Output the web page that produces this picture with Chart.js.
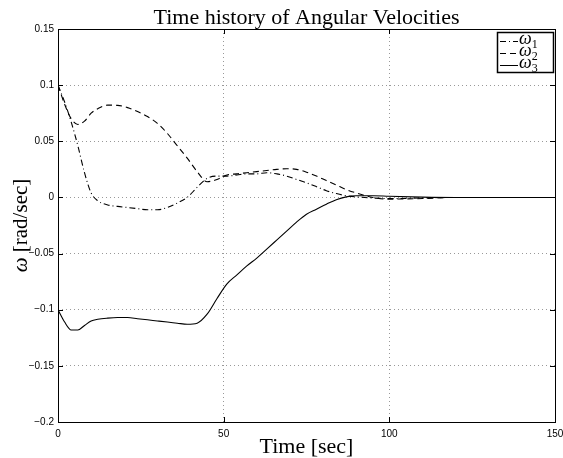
<!DOCTYPE html>
<html>
<head>
<meta charset="utf-8">
<script src="https://cdn.jsdelivr.net/npm/chart.js@4/dist/chart.umd.min.js"></script>
<style>
  html, body { margin: 0; padding: 0; background: #fff; }
  #wrap { width: 563px; height: 458px; }
</style>
</head>
<body>
<div id="wrap"><canvas id="c" width="563" height="458"></canvas></div>
<script>
// time samples [sec]
var time = [0, 2, 4, 6, 8, 10, 12, 15, 18, 21, 24, 27, 30, 33, 36, 39, 42, 45, 48, 51, 54, 57,
            60, 63, 66, 69, 72, 75, 78, 81, 84, 87, 90, 95, 100, 110, 120, 130, 140, 150];

// angular velocities [rad/sec]
var omega1 = [0.1, 0.085, 0.067, 0.046, 0.022, 0.004, -0.003, -0.0067, -0.008, -0.009, -0.010, -0.011,
              -0.011, -0.009, -0.005, 0.0, 0.009, 0.017, 0.019, 0.019, 0.020, 0.021,
              0.021, 0.022, 0.021, 0.019, 0.016, 0.013, 0.0096, 0.006, 0.0035, 0.0015, 0.0005, -0.0005,
              -0.001, -0.0005, 0, 0, 0, 0];
var omega2 = [0.1, 0.083, 0.07, 0.065, 0.068, 0.075, 0.079, 0.0822, 0.082, 0.080, 0.0765, 0.072,
              0.066, 0.057, 0.046, 0.035, 0.023, 0.014, 0.016, 0.020, 0.021, 0.022,
              0.023, 0.024, 0.025, 0.0255, 0.025, 0.0225, 0.019, 0.015, 0.011, 0.007, 0.004, 0.0,
              -0.0015, -0.001, 0, 0, 0, 0];
var omega3 = [-0.1, -0.111, -0.118, -0.118, -0.114, -0.110, -0.1085, -0.1075, -0.107, -0.107, -0.108, -0.109,
              -0.110, -0.111, -0.112, -0.113, -0.112, -0.104, -0.090, -0.077, -0.069, -0.061,
              -0.054, -0.046, -0.038, -0.030, -0.022, -0.015, -0.0105, -0.006, -0.002, 0.0005, 0.0015, 0.0015,
              0.001, 0.0003, 0, 0, 0, 0];

var seriesNames = ["1", "2", "3"];   // subscripts of omega
var xTicks = [0, 50, 100, 150];
var yTicks = [-0.2, -0.15, -0.1, -0.05, 0, 0.05, 0.1, 0.15];

var serif = "'Liberation Serif', 'Times New Roman', serif";
var sans = "'Liberation Sans', Arial, sans-serif";

var toPoints = function (ys) {
    return time.map(function (t, i) { return { x: t, y: ys[i] }; });
};

var mkSet = function (name, ys, dash) {
    return {
        label: name,
        data: toPoints(ys),
        borderColor: "#000",
        borderWidth: 1.1,
        borderDash: dash,
        pointRadius: 0,
        fill: false,
        cubicInterpolationMode: "monotone"
    };
};

var fmt = function (v) {
    var s = String(parseFloat(Number(v).toFixed(2)));
    return s.replace("-", "\u2212");
};

var gridColor = function (lo, hi) {
    return function (c) {
        var v = c.tick ? c.tick.value : null;
        return (v === lo || v === hi) ? "rgba(0,0,0,0)" : "#999";
    };
};

// box, inward ticks, titles and legend in MATLAB style
var matlabFrame = {
    id: "matlabFrame",
    afterDraw: function (chart) {
        var ctx = chart.ctx, a = chart.chartArea;
        var xs = chart.scales.x, ys = chart.scales.y;
        ctx.save();
        ctx.strokeStyle = "#000";
        ctx.lineWidth = 1;
        ctx.setLineDash([]);
        ctx.strokeRect(Math.round(a.left) + 0.5, Math.round(a.top) + 0.5,
                       Math.round(a.right - a.left), Math.round(a.bottom - a.top));

        // inward ticks
        var tl = 5;
        ctx.beginPath();
        for (let v of xTicks) {
            var px = Math.round(xs.getPixelForValue(v)) + 0.5;
            ctx.moveTo(px, a.bottom); ctx.lineTo(px, a.bottom - tl);
            ctx.moveTo(px, a.top); ctx.lineTo(px, a.top + tl);
        }
        for (let v of yTicks) {
            var py = Math.round(ys.getPixelForValue(v)) + 0.5;
            ctx.moveTo(a.left, py); ctx.lineTo(a.left + tl, py);
            ctx.moveTo(a.right, py); ctx.lineTo(a.right - tl, py);
        }
        ctx.stroke();

        // title and axis labels
        var cx = (a.left + a.right) / 2;
        ctx.fillStyle = "#000";
        ctx.textAlign = "center";
        ctx.textBaseline = "alphabetic";
        ctx.font = "22px " + serif;
        ctx.fillText("Time history of Angular Velocities", cx, 24);
        ctx.fillText("Time [sec]", cx, 453);

        ctx.save();
        ctx.translate(27, (a.top + a.bottom) / 2);
        ctx.rotate(-Math.PI / 2);
        ctx.font = "italic 21px " + serif;
        var w1 = ctx.measureText("\u03c9 ").width;
        ctx.font = "21px " + serif;
        var w2 = ctx.measureText("[rad/sec]").width;
        var x0 = -(w1 + w2) / 2;
        ctx.textAlign = "left";
        ctx.font = "italic 21px " + serif;
        ctx.fillText("\u03c9 ", x0, 0);
        ctx.font = "21px " + serif;
        ctx.fillText("[rad/sec]", x0 + w1, 0);
        ctx.restore();

        // legend
        var lx = 497, ly = 32, lw = 57, lh = 41;
        ctx.fillStyle = "#fff";
        ctx.fillRect(lx, ly, lw, lh);
        ctx.strokeStyle = "#000";
        ctx.lineWidth = 1.5;
        ctx.strokeRect(lx + 0.5, ly + 0.5, lw - 1, lh - 1);
        ctx.lineWidth = 1;
        chart.data.datasets.forEach(function (ds, i) {
            var ry = ly + 9 + i * 12;
            ctx.setLineDash(ds.borderDash || []);
            ctx.beginPath();
            ctx.moveTo(lx + 3, Math.round(ry) + 0.5);
            ctx.lineTo(lx + 21, Math.round(ry) + 0.5);
            ctx.stroke();
            ctx.setLineDash([]);
            ctx.fillStyle = "#000";
            ctx.textAlign = "left";
            ctx.font = "italic 18px " + serif;
            ctx.fillText("\u03c9", lx + 22, ry + 3);
            var ww = ctx.measureText("\u03c9").width;
            ctx.font = "12px " + serif;
            ctx.fillText(seriesNames[i], lx + 22 + ww, ry + 7);
        });
        ctx.restore();
    }
};

new Chart(document.getElementById("c"), {
    type: "line",
    data: {
        datasets: [
            mkSet("\u03c91", omega1, [6, 3, 1, 3]),
            mkSet("\u03c92", omega2, [6, 4]),
            mkSet("\u03c93", omega3, [])
        ]
    },
    options: {
        responsive: false,
        animation: false,
        devicePixelRatio: 1,
        layout: { padding: { top: 29, right: 0, left: 0, bottom: 0 } },
        plugins: {
            legend: { display: false },
            title: { display: false },
            tooltip: { enabled: false }
        },
        scales: {
            x: {
                type: "linear",
                min: 0,
                max: 150,
                afterBuildTicks: function (scale) {
                    scale.ticks = xTicks.map(function (v) { return { value: v }; });
                },
                afterFit: function (scale) {
                    scale.height = 36;
                    scale.paddingLeft = 0;
                    scale.paddingRight = 8;
                },
                border: { display: false, dash: [1, 3] },
                grid: {
                    drawTicks: false,
                    color: gridColor(0, 150),
                    lineWidth: 1
                },
                ticks: {
                    padding: 6,
                    maxRotation: 0,
                    color: "#000",
                    font: { family: sans, size: 10 },
                    callback: function (v) { return fmt(v); }
                }
            },
            y: {
                type: "linear",
                min: -0.2,
                max: 0.15,
                afterBuildTicks: function (scale) {
                    scale.ticks = yTicks.map(function (v) { return { value: v }; });
                },
                afterFit: function (scale) { scale.width = 58; },
                border: { display: false, dash: [1, 3] },
                grid: {
                    drawTicks: false,
                    color: gridColor(-0.2, 0.15),
                    lineWidth: 1
                },
                ticks: {
                    padding: 4,
                    color: "#000",
                    font: { family: sans, size: 10 },
                    callback: function (v) { return fmt(v); }
                }
            }
        }
    },
    plugins: [matlabFrame]
});
</script>
</body>
</html>
